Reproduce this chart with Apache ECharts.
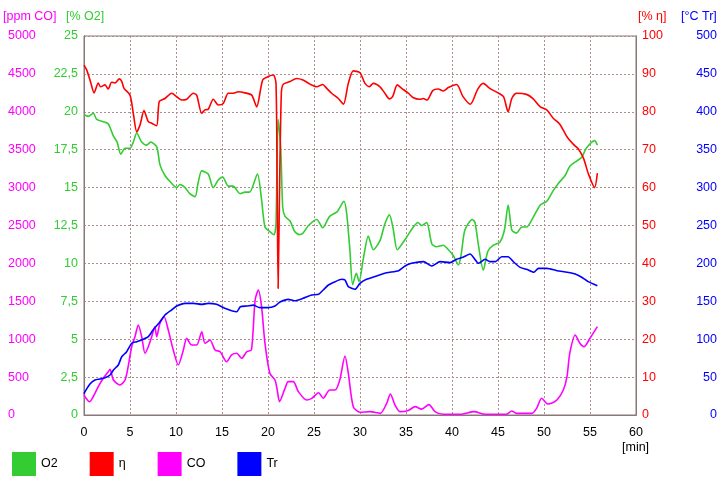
<!DOCTYPE html>
<html>
<head>
<meta charset="utf-8">
<script src="https://cdn.jsdelivr.net/npm/echarts@6/dist/echarts.min.js"></script>
<style>html,body{margin:0;padding:0;background:#fff}#c{width:720px;height:480px}</style>
</head>
<body>
<div id="c"></div>
<script>
var xTicks = [0,5,10,15,20,25,30,35,40,45,50,55,60];

var o2T = [0,0.47,1.0,1.38,2.1,2.64,3.2,3.6,4.0,4.46,5.0,5.36,5.73,6.27,6.8,7.25,7.9,8.26,8.8,9.35,10.08,10.43,10.98,11.5,12.07,12.4,12.8,13.5,14.05,14.6,15.07,15.68,16.2,16.96,17.5,18.0,18.85,19.3,19.67,20.2,20.65,20.87,21.1,21.38,21.6,21.85,22.4,22.9,23.4,23.8,24.4,25.3,25.94,26.7,27.5,28.26,28.55,28.9,29.2,29.6,29.9,30.36,30.9,31.45,32.17,32.7,33.2,33.6,34.05,34.7,35.25,35.8,36.3,36.7,37.25,37.8,38.3,39.05,39.6,40.1,40.7,41.0,41.4,42.2,42.5,42.9,43.4,43.9,44.5,45.2,45.7,46.1,46.5,47.0,47.6,48.1,48.7,49.6,50.3,51.0,51.6,52.3,52.8,53.55,54.1,54.6,55.5,55.8];
var o2V = [19.8,19.7,19.9,19.5,19.35,19.2,18.4,18.0,17.2,17.6,17.6,18.0,18.6,18.0,17.8,18.0,17.7,16.5,15.8,15.4,15.0,15.2,15.0,14.6,14.4,15.3,16.1,15.9,15.0,15.5,15.7,15.1,15.1,14.6,14.7,14.7,15.9,14.2,12.4,12.1,11.9,12.65,19.5,17.7,13.7,13.1,12.8,12.1,11.9,12.0,12.5,12.9,12.35,13.1,13.4,14.1,13.3,10.9,8.6,9.35,8.8,10.3,11.8,10.9,11.5,12.6,13.2,12.3,10.9,11.4,11.9,12.4,12.7,12.5,12.7,11.3,11.1,11.2,10.9,10.55,9.9,10.6,12.2,12.9,12.7,11.1,9.56,10.8,11.2,11.4,12.2,13.85,12.2,12.0,12.4,12.4,12.9,13.85,14.1,14.8,15.3,15.8,16.4,16.75,17.0,17.6,18.1,17.8];

var etaT = [0,0.3,0.7,1.1,1.55,1.8,2.28,2.64,3.0,3.37,3.84,4.1,4.35,5.0,5.36,5.73,6.09,6.52,6.99,7.36,7.9,8.18,8.8,9.53,10.08,10.62,11.16,11.88,12.25,12.79,13.15,13.51,14.05,14.6,15.14,15.68,16.23,16.77,17.5,18.23,18.77,19.42,20.03,20.58,20.87,21.0,21.1,21.25,21.45,21.67,22.4,23.1,23.8,24.57,25.3,25.94,26.38,26.92,27.65,28.2,28.73,29.27,30.0,30.54,31.0,31.45,32.17,32.7,33.2,33.55,34.05,34.53,35.25,35.8,36.5,36.88,37.3,37.9,38.5,39.05,39.6,40.5,41.2,42.0,42.8,43.4,44.1,45.0,45.6,46.1,46.5,47.0,48.1,48.8,49.6,50.3,51.0,51.7,52.5,53.2,53.7,54.3,54.8,55.5,55.8];
var etaV = [92.3,91,88,85,87.6,86.6,87.1,86.0,87.8,87.6,88.7,88.0,86.2,84.4,79.6,74.7,76.5,80.3,77.4,77.0,76.3,82.7,83.5,84.9,84.0,83.1,83.3,84.9,84.4,79.6,80.5,80.7,83.3,81.8,82.2,84.9,84.9,85.3,85.0,84.4,81.3,88.4,89.3,89.7,87.5,58.5,33.4,58.6,84.9,87.3,88.0,88.8,88.4,87.3,86.6,87.2,86.2,84.9,83.5,82.0,87.5,90.8,90.3,87.5,86.6,87.5,86.6,84.9,83.4,84.0,87.1,86.2,84.9,83.7,83.3,83.5,83.1,85.6,86.0,85.5,86.4,87.2,84.0,82.0,86.0,87.5,86.2,85.0,84.0,80.0,83.5,84.9,84.6,83.5,81.3,80.5,78.3,76.8,73.4,71.4,70.3,67.7,63.8,60.0,63.8];

var coT = [0,0.1,0.6,1.0,1.55,2.1,2.64,2.83,3.2,3.9,4.46,4.8,5.18,5.54,5.9,6.27,6.63,6.99,7.36,7.7,7.9,8.26,8.7,9.16,9.7,10.25,10.8,11.16,11.7,12.25,12.8,13.15,13.7,14.24,14.8,15.5,16.05,16.6,17.14,17.7,18.2,18.6,18.95,19.3,19.67,20.2,20.76,21.0,21.25,21.85,22.2,22.75,23.3,24.2,24.75,25.5,26.0,26.7,27.3,27.8,28.37,28.73,29.27,30.0,31.1,32.2,32.9,33.3,33.8,34.35,35.25,36.0,36.7,37.5,38.15,39.05,40.9,42.4,43.6,45.9,46.5,47.0,48.7,49.2,49.75,50.4,50.8,51.4,52.1,52.5,52.8,53.4,53.9,54.35,55.0,55.8];
var coV = [270,241,175,241,373,484,571,603,462,396,462,637,901,1033,1187,1033,814,901,1033,1165,1033,1210,1297,1121,858,660,858,1012,923,923,1099,946,989,858,835,703,792,814,748,835,858,1517,1649,1429,946,550,462,330,175,352,440,440,308,198,220,294,220,330,330,462,778,550,110,36,44,22,154,277,132,44,60,110,77,137,44,9,9,44,9,9,53,22,22,88,220,145,154,198,330,506,814,1055,946,901,1012,1165];

var trT = [0,0.1,0.65,1.2,1.74,2.28,2.83,3.2,3.73,4.1,4.64,5.18,5.73,6.45,6.99,7.5,8.26,8.8,9.5,10.08,11.0,11.9,12.8,13.5,14.4,15.3,16.05,16.6,17.0,17.7,18.4,19.1,20.0,20.76,21.3,22.2,22.9,23.8,24.75,25.5,26.0,26.56,27.3,28.0,28.37,28.73,29.46,30.0,30.7,31.8,32.9,34.2,34.9,35.6,36.9,37.8,38.7,39.8,40.5,41.2,41.96,42.9,43.6,44.1,44.7,45.4,46.1,46.66,47.4,48.1,48.9,49.4,50.3,51.4,52.5,53.4,54.1,54.8,55.8];
var trV = [28,30.7,40.9,46.2,47.5,49.2,52.8,59.4,66,76.9,83.5,94.6,96.7,99.9,103.3,112,123,132,138.5,143.8,147.3,147.3,146,147.3,146,140.8,137.6,136.3,142.9,143.8,145,141.6,141.6,143.8,149,152.6,150.8,153.9,158.3,159.2,164.9,171.5,175.9,179,178,169.3,165.8,173.7,179,183.4,187.7,190.4,196.6,200.1,202.3,196.6,202.3,201,205.4,208,212.4,200.1,205.4,202.3,202.3,208.8,208.8,202.3,194.8,192.2,188.3,193.5,193.5,190.4,188.3,186,181.7,175.9,170.6];

function zip(t, v){ var r=[]; for(var i=0;i<t.length;i++) r.push([t[i], v[i]]); return r; }

var FONT = 'Liberation Sans, Arial, sans-serif';
var FS = 12.5;
var GREEN = '#33cc33', RED = '#ff0000', MAG = '#ff00ff', BLUE = '#0000ff';
var GRIDC = '#b08e8e';
function plain(v){ return String(v); }

var chart = echarts.init(document.getElementById('c'), null, {renderer:'canvas'});
function yAxisBase(min, max, interval, color, pos, align, margin, extra){
  var a = {
    type:'value', min:min, max:max, interval:interval, position:pos,
    axisLine:{show:true, lineStyle:{color:'#8a7777', width:1}},
    axisTick:{show:false},
    splitLine:{show:false},
    axisLabel:{color:color, fontSize:FS, fontFamily:FONT, align:align, margin:margin, formatter:plain}
  };
  if (extra) for (var k in extra) a[k]=extra[k];
  return a;
}
var option = {
  animation:false,
  backgroundColor:'#ffffff',
  textStyle:{fontFamily:FONT},
  grid:{left:84, right:84, top:36, bottom:65, show:true, borderColor:'#8a7777', borderWidth:1, containLabel:false},
  xAxis:{
    type:'value', min:0, max:60, interval:5,
    axisLine:{show:true, lineStyle:{color:'#8a7777'}},
    axisTick:{show:false},
    axisLabel:{color:'#000', fontSize:FS, fontFamily:FONT, margin:11, formatter:plain},
    splitLine:{show:true, lineStyle:{color:GRIDC, type:[2,2], width:1}}
  },
  yAxis:[
    yAxisBase(0,5000,500,MAG,'left','left',76),
    yAxisBase(0,25,2.5,GREEN,'left','right',6,{
      splitLine:{show:true, lineStyle:{color:GRIDC, type:[2,2], width:1}},
      axisLabel:{color:GREEN, fontSize:FS, fontFamily:FONT, align:'right', margin:6,
        formatter:function(v){ return String(v).replace('.', ','); }}
    }),
    yAxisBase(0,100,10,RED,'right','left',6),
    yAxisBase(0,500,50,BLUE,'right','right',81)
  ],
  legend:{
    left:12, top:452, padding:0, itemWidth:24, itemHeight:24, itemGap:32, icon:'rect',
    textStyle:{color:'#000', fontSize:FS, fontFamily:FONT},
    data:['O2','η','CO','Tr']
  },
  graphic:[
    {type:'text', left:3, top:10, style:{text:'[ppm CO]', fill:MAG, font:FS+'px '+FONT}},
    {type:'text', left:66, top:10, style:{text:'[% O2]', fill:GREEN, font:FS+'px '+FONT}},
    {type:'text', left:638, top:10, style:{text:'[% η]', fill:RED, font:FS+'px '+FONT}},
    {type:'text', left:681, top:10, style:{text:'[°C Tr]', fill:BLUE, font:FS+'px '+FONT}},
    {type:'text', left:622, top:441, style:{text:'[min]', fill:'#000', font:FS+'px '+FONT}}
  ],
  series:[
    {name:'O2', type:'line', yAxisIndex:1, data:zip(o2T,o2V), showSymbol:false, smooth:0.25, color:GREEN, lineStyle:{width:1.6, color:GREEN}},
    {name:'η', type:'line', yAxisIndex:2, data:zip(etaT,etaV), showSymbol:false, smooth:0.25, color:RED, lineStyle:{width:1.6, color:RED}},
    {name:'CO', type:'line', yAxisIndex:0, data:zip(coT,coV), showSymbol:false, smooth:0.25, color:MAG, lineStyle:{width:1.6, color:MAG}},
    {name:'Tr', type:'line', yAxisIndex:3, data:zip(trT,trV), showSymbol:false, smooth:0.2, color:BLUE, lineStyle:{width:1.6, color:BLUE}}
  ]
};
chart.setOption(option);
</script>
</body>
</html>
